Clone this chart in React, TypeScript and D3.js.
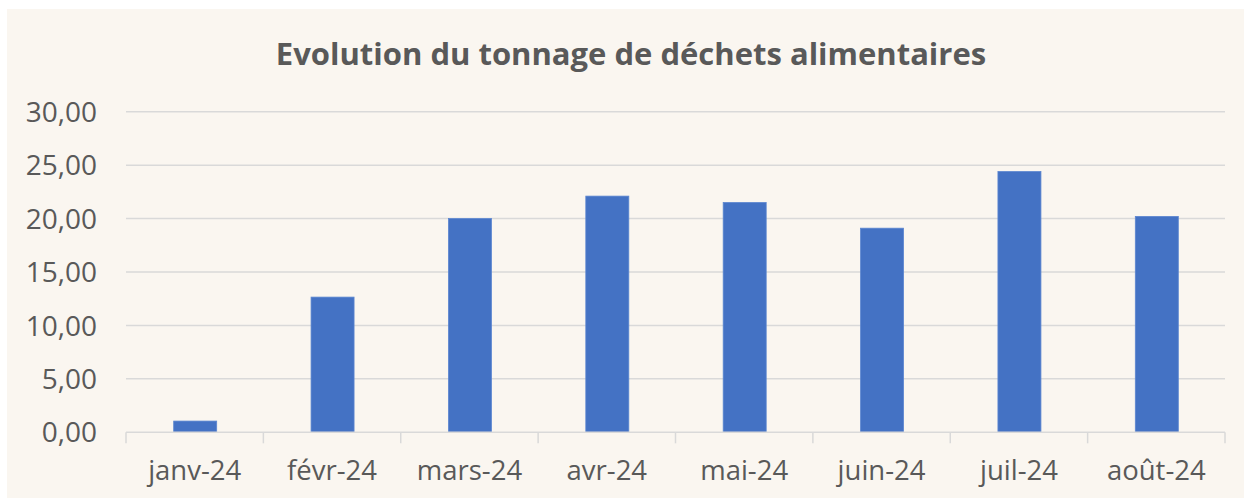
import React from 'react';
import * as d3 from 'd3';

const categories = ['janv-24', 'févr-24', 'mars-24', 'avr-24', 'mai-24', 'juin-24', 'juil-24', 'août-24'];
const tonnage = [1.05, 12.65, 20.0, 22.1, 21.5, 19.1, 24.4, 20.2];
const yTicks = [0, 5, 10, 15, 20, 25, 30];
const title = 'Evolution du tonnage de déchets alimentaires';

const W = 1244;
const H = 499;
const plot = { left: 126, right: 1225, top: 111.7, bottom: 432.3 };
const FONT = '"Open Sans", sans-serif';
const textColor = '#595959';
const gridColor = '#d9d9d9';
const barColor = '#4472c4';

const fr = d3.formatLocale({ decimal: ',', thousands: ' ', grouping: [3], currency: ['', ' €'] });
const fmt = fr.format('.2f');

export default function App() {
  const x = d3.scaleBand<string>().domain(categories).range([plot.left, plot.right]).padding(0);
  const y = d3.scaleLinear().domain([0, 30]).range([plot.bottom, plot.top]);
  // excel-style gap width (~219%)
  const barW = x.bandwidth() * 0.313;

  return (
    <div style={{ position: 'absolute', left: 0, top: 0 }}>
      <svg width={W} height={H} style={{ display: 'block', background: '#fff' }}>
        <rect x={7} y={9} width={W - 7} height={H - 10} fill="#faf6f0" />
        <text
          x={631}
          y={65}
          textAnchor="middle"
          fontFamily={FONT}
          fontWeight="bold"
          fontSize={31}
          fill={textColor}
        >
          {title}
        </text>

        {/* gridlines + y labels */}
        {yTicks.map((t) => (
          <g key={t}>
            {t > 0 && (
              <line x1={plot.left} x2={plot.right} y1={y(t)} y2={y(t)} stroke={gridColor} strokeWidth={1.5} />
            )}
            <text
              x={97}
              y={y(t)}
              dy="0.36em"
              textAnchor="end"
              fontFamily={FONT}
              fontSize={28}
              fill={textColor}
            >
              {fmt(t)}
            </text>
          </g>
        ))}

        {/* bars */}
        {categories.map((c, i) => (
          <rect
            key={c}
            x={(x(c) ?? 0) + (x.bandwidth() - barW) / 2 + 0.5}
            y={y(tonnage[i])}
            width={barW}
            height={y(0) - y(tonnage[i])}
            fill={barColor}
            stroke="#5b86d0"
            strokeWidth={0.8}
          />
        ))}

        {/* x axis */}
        <line x1={plot.left} x2={plot.right} y1={y(0)} y2={y(0)} stroke={gridColor} strokeWidth={1.5} />
        {categories.concat(['__end']).map((c, i) => {
          const tx = plot.left + i * x.step();
          return <line key={'t' + i} x1={tx} x2={tx} y1={y(0)} y2={y(0) + 11} stroke={gridColor} strokeWidth={1.5} />;
        })}
        {categories.map((c) => (
          <text
            key={'l' + c}
            x={(x(c) ?? 0) + x.bandwidth() / 2}
            y={480}
            textAnchor="middle"
            fontFamily={FONT}
            fontSize={27.5}
            fill={textColor}
          >
            {c}
          </text>
        ))}
      </svg>
    </div>
  );
}
